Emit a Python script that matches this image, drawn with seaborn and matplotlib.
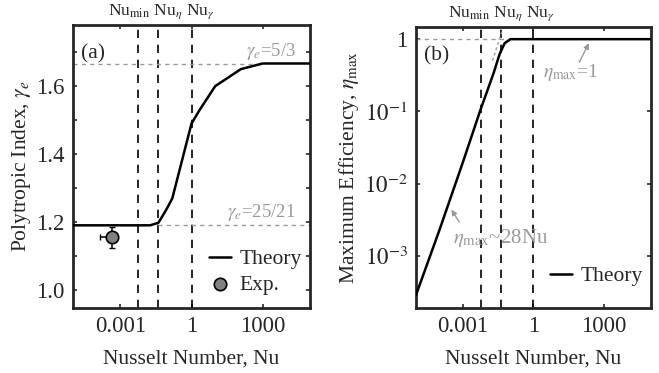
import numpy as np
import pandas as pd
import seaborn as sns
import matplotlib
matplotlib.use("Agg")
import matplotlib.pyplot as plt

# data
nu_a = [1e-5, 0.018, 0.04, 0.06, 0.095, 0.155, 1, 2.2, 10, 120, 1000, 1e5]
gamma_e = [1.1905, 1.1905, 1.198, 1.218, 1.242, 1.27, 1.49, 1.53, 1.60, 1.65, 1.6667, 1.6667]

nu_b = [1e-5, 1e-4, 1e-3, 0.0055, 0.02, 0.037, 0.06, 0.105, 1e5]
eta_max = [2.9e-4, 2.3e-3, 2.0e-2, 0.104, 0.336, 0.63, 0.88, 1.0, 1.0]

exp_nu = [4.5e-4]
exp_gamma = [1.155]
exp_xerr_lo = [3.1e-4]
exp_yerr = [0.03]

nu_lines = [0.0056, 0.04, 1.0]   # Nu_min, Nu_eta, Nu_gamma
gamma_iso = 25 / 21
gamma_ad = 5 / 3

sns.set_style("ticks")
plt.rcParams["font.family"] = ["Liberation Serif", "DejaVu Serif"]
plt.rcParams["mathtext.fontset"] = "stix"
plt.rcParams["xtick.direction"] = "in"
plt.rcParams["ytick.direction"] = "in"

gray = "#9a9a9a"
fs = 15.5
tfs = 16.5

fig = plt.figure(figsize=(6.59, 3.73), dpi=100)
ax1 = fig.add_axes([0.1108, 0.175, 0.3596, 0.758])
ax2 = fig.add_axes([0.6313, 0.175, 0.3561, 0.753])


def style_axes(ax):
    ax.set_xscale("log")
    ax.set_xlim(1e-5, 1e5)
    ax.set_xticks([1e-3, 1, 1e3])
    ax.set_xticklabels(["0.001", "1", "1000"])
    ax.xaxis.set_minor_locator(matplotlib.ticker.NullLocator())
    for s in ax.spines.values():
        s.set_linewidth(2.0)
        s.set_visible(True)
    ax.tick_params(which="both", top=True, right=True, length=3, width=1.2,
                   labelsize=tfs, pad=6)
    ax.set_xlabel("Nusselt Number, Nu", fontsize=fs, labelpad=9)
    for v in nu_lines:
        ax.axvline(v, color="black", lw=1.2, ls=(0, (5, 4)), zorder=1)


def top_label(ax, x):
    trans = matplotlib.transforms.blended_transform_factory(ax.transData, ax.transAxes)
    ax.text(x, 1.015, r"Nu$_{\rm min}$ Nu$_{\eta}$ Nu$_{\gamma}$", transform=trans,
            fontsize=12.5, ha="center", va="bottom")


# ---- panel (a)
df_a = pd.DataFrame({"Nu": nu_a, "gamma": gamma_e})
sns.lineplot(data=df_a, x="Nu", y="gamma", ax=ax1, color="black", lw=1.8,
             label="Theory", zorder=3)
ax1.plot([1e-5, 1000], [gamma_ad, gamma_ad], color=gray, lw=1, ls=(0, (3, 3)), zorder=2)
ax1.plot([0.04, 1e5], [gamma_iso, gamma_iso], color=gray, lw=1, ls=(0, (3, 3)), zorder=2)
ax1.errorbar(exp_nu, exp_gamma, xerr=[exp_xerr_lo, [0]], yerr=exp_yerr, fmt="none",
             ecolor="black", elinewidth=1.1, capsize=2.5, zorder=4)
sns.scatterplot(x=exp_nu, y=exp_gamma, ax=ax1, s=80, color="#808080",
                edgecolor="black", linewidth=1.2, label="Exp.", zorder=5)
style_axes(ax1)
top_label(ax1, 0.055)
ax1.set_ylim(0.948, 1.78)
ax1.set_yticks([1.0, 1.2, 1.4, 1.6])
ax1.set_yticks([1.1, 1.3, 1.5, 1.7], minor=True)
ax1.set_ylabel(r"Polytropic Index, $\gamma_e$", fontsize=fs, labelpad=2)
ax1.text(0.035, 0.88, "(a)", transform=ax1.transAxes, fontsize=fs)
ax1.text(2.5e4, gamma_ad + 0.003, r"$\gamma_e$=5/3", color=gray, fontsize=13.5,
         ha="right", va="bottom")
ax1.text(2.5e4, gamma_iso + 0.006, r"$\gamma_e$=25/21", color=gray, fontsize=13.5,
         ha="right", va="bottom")
ax1.legend(loc="lower right", frameon=False, fontsize=fs, handlelength=1.0,
           handletextpad=0.4, labelspacing=0.25, borderaxespad=0.2,
           bbox_to_anchor=(1.02, 0.0))

# ---- panel (b)
df_b = pd.DataFrame({"Nu": nu_b, "eta": eta_max})
sns.lineplot(data=df_b, x="Nu", y="eta", ax=ax2, color="black", lw=1.8,
             label="Theory", zorder=3)
ax2.set_yscale("log")
ax2.plot([1e-5, 0.105], [1, 1], color=gray, lw=1, ls=(0, (3, 3)), zorder=2)
asym_nu = np.array([0.018, 0.06])
ax2.plot(asym_nu, 28 * asym_nu, color=gray, lw=1, ls=(0, (2, 2)), zorder=2)
style_axes(ax2)
top_label(ax2, 0.045)
ax2.set_ylim(1.93e-4, 1.48)
ax2.set_yticks([1e-3, 1e-2, 1e-1, 1])
ax2.set_yticklabels([r"$10^{-3}$", r"$10^{-2}$", r"$10^{-1}$", "1"])
ax2.yaxis.set_minor_locator(matplotlib.ticker.NullLocator())
ax2.set_ylabel(r"Maximum Efficiency, $\eta_{\rm max}$", fontsize=fs, labelpad=2)
ax2.text(0.035, 0.88, "(b)", transform=ax2.transAxes, fontsize=fs)

arrow = dict(arrowstyle="-|>", color=gray, lw=1, mutation_scale=8, shrinkA=0, shrinkB=0)
ax2.annotate("", xy=(235, 0.88), xytext=(90, 0.48), arrowprops=arrow)
ax2.text(2.5, 0.35, r"$\eta_{\rm max}$=1", color=gray, fontsize=14, ha="left", va="center")
ax2.annotate("", xy=(3.2e-4, 4.4e-3), xytext=(7.0e-4, 2.95e-3), arrowprops=arrow)
ax2.text(3.9e-4, 1.8e-3, r"$\eta_{\rm max}$~28Nu", color=gray, fontsize=15,
         ha="left", va="center")
ax2.legend(loc="lower right", frameon=False, fontsize=fs, handlelength=1.0,
           handletextpad=0.4, borderaxespad=0.2, bbox_to_anchor=(1.02, 0.03))

fig.savefig("out.png", dpi=100)
